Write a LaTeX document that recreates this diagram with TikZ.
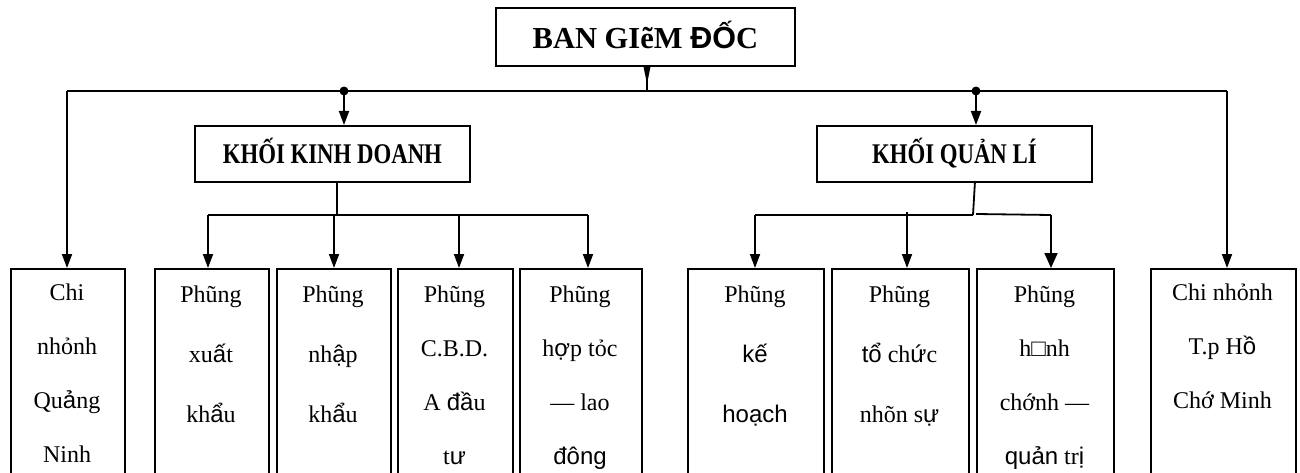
\documentclass[tikz,border=0pt]{standalone}
\usepackage{fontspec}
\setmainfont{Liberation Serif}
\newfontfamily\sansfam{Liberation Sans}
\newfontfamily\condfam{Liberation Serif}[FakeStretch=0.8]
\newcommand\ssx[1]{{\sansfam #1}}
\usetikzlibrary{arrows.meta}
\begin{document}
\begin{tikzpicture}[x=1pt,y=-1pt,
  ln/.style={line width=1.8pt},
  arr/.style={line width=1.8pt,-{Triangle[length=14pt,width=10pt]}},
  bigarr/.style={line width=1.8pt,-{Triangle[length=15pt,width=13pt]}},
  box/.style={draw,line width=1.8pt,inner sep=0pt,anchor=north west},
  blockbox/.style={box,minimum width=275pt,minimum height=56pt,text height=19pt,text depth=0pt,font=\condfam\fontsize{28.5}{30}\selectfont\bfseries},
  dotn/.style={circle,fill,inner sep=0pt,minimum size=9pt},
  ltxt/.style={align=center,inner sep=0pt,anchor=north,font=\fontsize{24}{54}\selectfont},
  stxt/.style={align=center,inner sep=0pt,anchor=north,font=\fontsize{24}{60}\selectfont},
]
\useasboundingbox (0,0) rectangle (1300,473);
\clip (0,0) rectangle (1300,473);

% top level
\node[box,minimum width=299pt,minimum height=58pt,text height=24pt,text depth=0pt,font=\fontsize{30.5}{32}\selectfont\bfseries] (top) at (495,7) {BAN GIẽM \ssx{ĐỐ}C};
\node[blockbox] (kd) at (194,125) {KHỐI KINH DOANH};
\node[blockbox] (kq) at (816,125) {KHỐI QUẢN LÍ};

% bottom boxes
\node[box,minimum width=114pt,minimum height=230pt] (b1) at (10,268) {};
\node[box,minimum width=114pt,minimum height=230pt] (b2) at (154,268) {};
\node[box,minimum width=114pt,minimum height=230pt] (b3) at (276,268) {};
\node[box,minimum width=115pt,minimum height=230pt] (b4) at (397,268) {};
\node[box,minimum width=122pt,minimum height=230pt] (b5) at (519,268) {};
\node[box,minimum width=136pt,minimum height=230pt] (b6) at (687,268) {};
\node[box,minimum width=137pt,minimum height=230pt] (b7) at (831,268) {};
\node[box,minimum width=137pt,minimum height=230pt] (b8) at (976,268) {};
\node[box,minimum width=145pt,minimum height=230pt] (b9) at (1150,268) {};

% texts
\node[ltxt] (t1) at (67,278) {\rule{0pt}{22pt}Chi\\nhỏnh\\Qu\ssx{ả}ng\\Ninh};
\node[stxt] (t2) at (211,280) {\rule{0pt}{22pt}Phũng\\xu\ssx{ấ}t\\kh\ssx{ẩ}u};
\node[stxt] (t3) at (333,280) {\rule{0pt}{22pt}Phũng\\nh\ssx{ậ}p\\kh\ssx{ẩ}u};
\node[ltxt] (t4) at (454.5,280) {\rule{0pt}{22pt}Phũng\\C.B.D.\\A \ssx{đầ}u\\t\ssx{ư}};
\node[ltxt] (t5) at (580,280) {\rule{0pt}{22pt}Phũng\\h\ssx{ợ}p tỏc\\— lao\\\ssx{đông}};
\node[stxt] (t6) at (755,280) {\rule{0pt}{22pt}Phũng\\\ssx{kế}\\\ssx{hoạch}};
\node[stxt] (t7) at (899.5,280) {\rule{0pt}{22pt}Phũng\\\ssx{tổ} ch\ssx{ứ}c\\nhõn s\ssx{ự}};
\node[ltxt] (t8) at (1044.5,280) {\rule{0pt}{22pt}Phũng\\h□nh\\chớnh —\\\ssx{quản} tr\ssx{ị}};
\node[ltxt] (t9) at (1222.5,278) {\rule{0pt}{22pt}Chi nhỏnh\\T.p H\ssx{ồ}\\Chớ Minh};

% junction coordinates
\coordinate (hL) at (67,91);
\coordinate (hR) at (1227,91);
\coordinate (jT) at (647,91);
\coordinate (dK) at (344,91);
\coordinate (dQ) at (976,91);
\coordinate (cK) at (337,215);
\coordinate (k2) at (208,215);
\coordinate (k3) at (334,215);
\coordinate (k4) at (459,215);
\coordinate (k5) at (588,215);
\coordinate (cQ) at (973,215);
\coordinate (q6) at (755,215);
\coordinate (q7) at (907,212);
\coordinate (q8) at (1051,215);

% top connector
\draw[line width=1.2pt] (jT |- top.south) -- (jT);
\fill (jT |- top.south) ++(-3.5,0) -- ++(7,0) -- ++(-3.5,17) -- cycle;

% main line
\draw[ln] (hL) -- (hR);
\node[dotn] (dotK) at (dK) {};
\node[dotn] (dotQ) at (dQ) {};
\draw[arr] (hL) -- (hL |- b1.north);
\draw[arr] (hR) -- (hR |- b9.north);
\draw[arr] (dK) -- (dK |- kd.north);
\draw[arr] (dQ) -- (dQ |- kq.north);

% business block
\draw[ln] (cK |- kd.south) -- (cK);
\draw[ln] (k2) -- (k5);
\draw[arr] (k2) -- (k2 |- b2.north);
\draw[arr] (k3) -- (k3 |- b3.north);
\draw[arr] (k4) -- (k4 |- b4.north);
\draw[arr] (k5) -- (k5 |- b5.north);

% management block
\draw[ln] (975,181) -- (cQ);
\draw[ln] (q6) -- (cQ);
\draw[ln] (976,214) -- (q8);
\draw[arr] (q6) -- (q6 |- b6.north);
\draw[arr] (q7) -- (q7 |- b7.north);
\draw[bigarr] (q8) -- (q8 |- b8.north);
\end{tikzpicture}
\end{document}
